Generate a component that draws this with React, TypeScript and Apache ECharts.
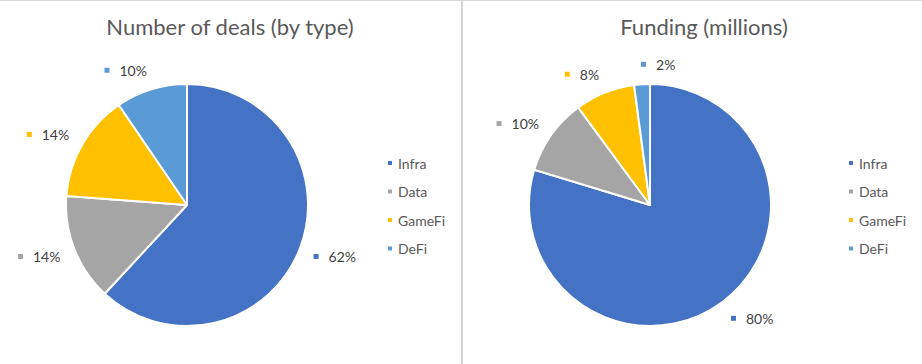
import React, { useEffect, useRef } from "react";
import * as echarts from "echarts";

const categories = ["Infra", "Data", "GameFi", "DeFi"];
const dealCounts = [13, 3, 3, 2];
const fundingMillions = [79.7, 10.2, 8.0, 2.1];
const titles = ["Number of deals (by type)", "Funding (millions)"];

const COLORS = ["#4472C4", "#A5A5A5", "#FFC000", "#5B9BD5"];
const FONT = "Lato";

function makeLabelLayout(values: number[], cx: number, cy: number, r: number, gapX: number, gapY: number) {
  const total = values.reduce((a, b) => a + b, 0);
  return (p: any) => {
    let before = 0;
    for (let i = 0; i < p.dataIndex; i++) before += values[i];
    const mid = ((before + values[p.dataIndex] / 2) / total) * Math.PI * 2;
    const dx = Math.sin(mid);
    const dy = -Math.cos(mid);
    return {
      x: cx + dx * (r + gapX),
      y: cy + dy * (r + gapY),
      align: dx < -0.1 ? "right" : "left",
      verticalAlign: "middle",
    };
  };
}

const rich: any = {
  s: { width: 10, height: 5 },
  t: { fontSize: 14, color: "#404040", fontFamily: FONT, lineHeight: 14, verticalAlign: "middle" },
};
COLORS.forEach((c, i) => {
  rich["k" + i] = { width: 5, height: 5, backgroundColor: c, verticalAlign: "middle" };
});

function pieSeries(values: number[], cx: number, cy: number, r: number) {
  return {
    type: "pie",
    center: [cx, cy],
    radius: r,
    startAngle: 90,
    clockwise: true,
    avoidLabelOverlap: false,
    itemStyle: { borderColor: "#ffffff", borderWidth: 2 },
    labelLine: { show: false },
    label: {
      show: true,
      position: "outside",
      formatter: (p: any) => `{k${p.dataIndex}|}{s|}{t|${Math.round(p.percent)}%}`,
      rich,
    },
    labelLayout: makeLabelLayout(values, cx, cy, r, 15, 20),
    data: categories.map((name, i) => ({
      name,
      value: values[i],
      itemStyle: { color: COLORS[i] },
    })),
  };
}

function legend(left: number) {
  return {
    orient: "vertical",
    left,
    top: 156,
    padding: 0,
    icon: "rect",
    itemWidth: 6,
    itemHeight: 6,
    itemGap: 14.5,
    data: categories,
    textStyle: { fontSize: 14, color: "#595959", fontFamily: FONT, lineHeight: 14 },
  };
}

export default function App() {
  const ref = useRef<HTMLDivElement>(null);
  useEffect(() => {
    document.body.style.margin = "0";
    const chart = echarts.init(ref.current!, null, { renderer: "svg" });
    const titleStyle = { fontSize: 22, fontWeight: "normal", color: "#595959", fontFamily: FONT, lineHeight: 26 };
    chart.setOption({
      animation: false,
      backgroundColor: "#ffffff",
      title: [
        { text: titles[0], left: 230, textAlign: "center", top: 13, padding: 0, textStyle: titleStyle },
        { text: titles[1], left: 704, textAlign: "center", top: 13, padding: 0, textStyle: titleStyle },
      ],
      legend: [legend(386), legend(847)],
      series: [pieSeries(dealCounts, 187, 205, 121), pieSeries(fundingMillions, 650, 205, 121)],
      graphic: [
        { type: "rect", shape: { x: 0, y: 0, width: 922, height: 1 }, style: { fill: "#d9d9d9" }, silent: true },
        { type: "rect", shape: { x: 461, y: 0, width: 2, height: 364 }, style: { fill: "#d4d4d4" }, silent: true },
      ],
    });
    return () => chart.dispose();
  }, []);
  return <div ref={ref} style={{ width: 922, height: 364 }} />;
}
